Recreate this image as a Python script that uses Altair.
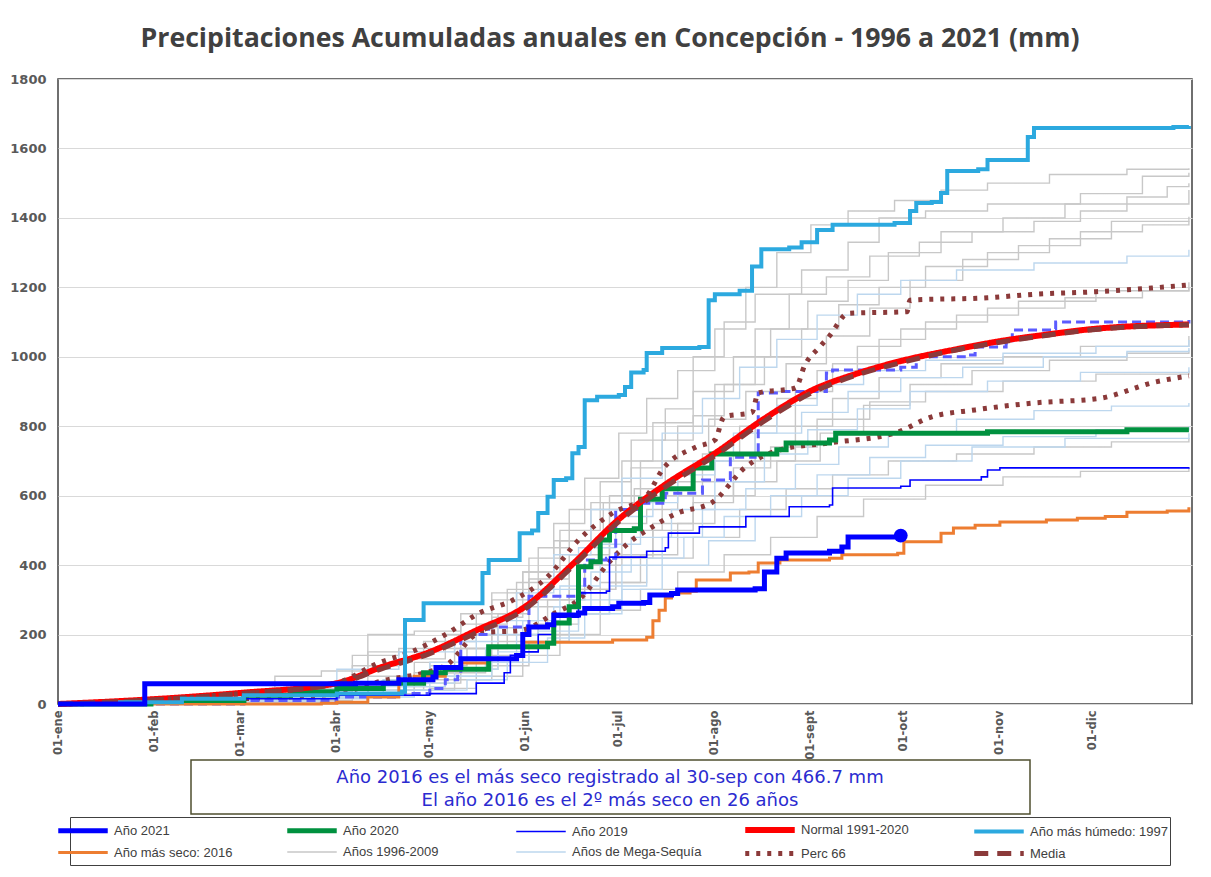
import altair as alt
import pandas as pd

# ---------------- data (day of year, accumulated mm) ----------------
meses_dias = [0, 31, 59, 90, 120, 151, 181, 212, 243, 273, 304, 334]
meses_etiquetas = ["01-ene", "01-feb", "01-mar", "01-abr", "01-may", "01-jun",
                   "01-jul", "01-ago", "01-sept", "01-oct", "01-nov", "01-dic"]
y_ticks = [0, 200, 400, 600, 800, 1000, 1200, 1400, 1600, 1800]

anio_2021 = [(0, 0), (27, 0), (28, 58), (96, 60), (110, 70), (121, 78), (122, 105), (130, 130),
             (148, 140), (150, 200), (152, 222), (158, 228), (160, 256), (168, 262), (170, 275),
             (179, 280), (181, 290), (189, 292), (191, 314), (198, 318), (200, 328), (225, 332),
             (228, 380), (232, 420), (235, 435), (249, 440), (253, 452), (255, 481), (272, 485)]
anio_2020 = [(0, 0), (30, 10), (60, 25), (75, 35), (90, 45), (105, 60), (118, 90), (125, 100),
             (139, 165), (158, 175), (160, 233), (165, 280), (168, 395), (172, 410), (175, 472),
             (178, 500), (186, 505), (188, 590), (195, 620), (205, 680), (211, 720), (232, 732),
             (235, 752), (249, 760), (251, 780), (300, 784), (345, 790), (365, 790)]
anio_2019 = [(0, 0), (30, 5), (60, 15), (90, 25), (120, 30), (135, 60), (144, 90), (146, 140),
             (150, 150), (155, 200), (160, 250), (168, 320), (177, 325), (178, 423), (190, 440),
             (196, 450), (197, 492), (207, 510), (222, 540), (236, 568), (249, 573), (250, 622),
             (272, 627), (275, 645), (298, 654), (300, 674), (304, 680), (365, 682)]
normal = [(0, 0), (31, 14), (59, 32), (90, 60), (104, 105), (120, 150), (135, 212), (151, 282),
          (166, 402), (181, 532), (196, 632), (212, 722), (228, 822), (243, 902), (258, 952),
          (273, 990), (289, 1020), (304, 1045), (320, 1065), (334, 1080), (365, 1093)]
anio_1997 = [(0, 0), (20, 5), (40, 15), (60, 25), (90, 30), (111, 35), (112, 242), (117, 242),
             (118, 290), (135, 290), (137, 377), (139, 415), (147, 415), (149, 492), (153, 500),
             (155, 550), (158, 597), (160, 645), (164, 650), (166, 722), (168, 740), (170, 875),
             (174, 885), (181, 890), (183, 913), (185, 955), (189, 962), (190, 1011), (195, 1025),
             (207, 1028), (210, 1163), (212, 1180), (220, 1190), (224, 1260), (227, 1310),
             (236, 1315), (240, 1330), (245, 1365), (250, 1380), (270, 1385), (275, 1420),
             (277, 1443), (282, 1446), (285, 1472), (287, 1535), (297, 1540), (300, 1567),
             (310, 1567), (313, 1633), (315, 1659), (360, 1662), (365, 1665)]
anio_2016 = [(0, 0), (60, 0), (85, 2), (90, 5), (100, 20), (110, 60), (115, 80), (125, 98),
             (130, 118), (139, 165), (150, 178), (179, 184), (190, 192), (192, 240), (194, 270),
             (196, 305), (198, 320), (204, 325), (206, 357), (217, 377), (223, 380), (226, 406),
             (233, 415), (249, 420), (253, 430), (271, 434), (273, 467), (283, 467), (285, 492),
             (289, 507), (296, 515), (304, 524), (319, 530), (329, 535), (338, 540), (345, 552),
             (358, 556), (365, 567)]
perc_66 = [(0, 0), (31, 12), (59, 30), (80, 45), (90, 60), (104, 120), (114, 150), (125, 200),
           (136, 262), (147, 300), (158, 366), (168, 472), (179, 550), (190, 600), (195, 674),
           (206, 740), (212, 760), (215, 827), (224, 840), (226, 896), (238, 910), (241, 975),
           (246, 1030), (249, 1060), (255, 1125), (274, 1130), (275, 1163), (300, 1170),
           (315, 1180), (334, 1187), (353, 1198), (365, 1207)]
media = [(0, 0), (31, 12), (59, 30), (90, 58), (104, 100), (120, 145), (135, 205), (151, 275),
         (166, 395), (181, 525), (196, 625), (212, 715), (228, 815), (243, 895), (258, 948),
         (273, 985), (289, 1018), (304, 1042), (320, 1063), (334, 1078), (365, 1092)]
perc_inferior = [(0, 0), (31, 5), (59, 15), (90, 30), (104, 65), (125, 110), (136, 204),
                 (150, 213), (160, 260), (168, 300), (179, 420), (185, 470), (190, 500),
                 (200, 550), (211, 580), (222, 683), (233, 732), (249, 752), (270, 780),
                 (282, 827), (296, 847), (315, 867), (336, 880), (354, 927), (365, 945)]
serie_trazos = [(0, 0), (60, 10), (90, 20), (110, 30), (120, 45), (125, 70), (129, 80),
                (130, 200), (139, 222), (150, 225), (152, 310), (168, 320), (170, 415),
                (177, 420), (180, 560), (187, 578), (196, 607), (208, 645), (217, 711),
                (225, 720), (226, 896), (233, 900), (248, 953), (250, 962), (272, 970),
                (277, 1000), (294, 1005), (296, 1028), (306, 1040), (308, 1077), (321, 1080),
                (322, 1100), (365, 1106)]

anios_1996_2009 = {
    "1996": [(0, 0), (40, 10), (75, 30), (100, 60), (120, 120), (140, 250), (150, 380), (160, 520),
             (170, 650), (181, 780), (190, 880), (200, 960), (212, 1080), (222, 1200), (232, 1300),
             (243, 1380), (255, 1420), (270, 1450), (285, 1480), (300, 1500), (320, 1525),
             (345, 1540), (365, 1543)],
    "1998": [(0, 0), (60, 10), (95, 25), (120, 45), (135, 80), (150, 140), (162, 200), (175, 270),
             (188, 330), (200, 380), (215, 430), (230, 480), (245, 540), (260, 590), (280, 630),
             (305, 654), (330, 670), (365, 680)],
    "1999": [(0, 0), (60, 15), (90, 40), (115, 90), (130, 160), (142, 260), (152, 360), (165, 430),
             (178, 600), (188, 700), (200, 800), (212, 920), (225, 1080), (236, 1180), (248, 1230),
             (262, 1290), (278, 1330), (295, 1360), (315, 1390), (330, 1420), (345, 1460),
             (358, 1490), (365, 1500)],
    "2000": [(0, 0), (20, 15), (45, 25), (70, 80), (85, 95), (100, 150), (118, 180), (135, 260),
             (148, 350), (160, 470), (172, 580), (182, 700), (192, 810), (205, 900), (218, 1000),
             (230, 1080), (242, 1160), (255, 1220), (268, 1300), (285, 1360), (305, 1400),
             (325, 1440), (365, 1480)],
    "2001": [(0, 0), (30, 5), (70, 30), (95, 110), (110, 130), (125, 200), (140, 300), (152, 420),
             (162, 500), (175, 560), (185, 680), (195, 760), (205, 830), (215, 920), (228, 1000),
             (240, 1080), (252, 1150), (265, 1200), (280, 1260), (300, 1300), (320, 1340),
             (340, 1390), (365, 1403)],
    "2002": [(0, 0), (50, 20), (85, 50), (95, 140), (110, 160), (130, 230), (145, 330), (155, 450),
             (165, 560), (175, 640), (185, 760), (196, 850), (205, 1000), (215, 1100), (225, 1180),
             (240, 1250), (255, 1330), (265, 1400), (280, 1420), (300, 1440), (330, 1470),
             (350, 1520), (365, 1530)],
    "2003": [(0, 0), (40, 20), (80, 45), (105, 70), (120, 110), (132, 160), (145, 220), (158, 300),
             (170, 400), (182, 500), (195, 600), (208, 720), (220, 800), (232, 880), (245, 960),
             (258, 1030), (272, 1080), (290, 1120), (310, 1160), (335, 1190), (365, 1215)],
    "2004": [(0, 0), (35, 10), (75, 25), (100, 40), (118, 70), (128, 120), (142, 180), (155, 300),
             (165, 400), (178, 520), (190, 560), (200, 640), (212, 700), (225, 800), (238, 900),
             (250, 980), (265, 1050), (280, 1100), (300, 1140), (325, 1170), (350, 1190),
             (365, 1200)],
    "2005": [(0, 0), (55, 10), (88, 60), (100, 200), (115, 210), (130, 260), (140, 320), (150, 380),
             (162, 470), (176, 580), (186, 620), (196, 700), (210, 820), (222, 900), (235, 980),
             (248, 1060), (262, 1140), (275, 1220), (292, 1280), (310, 1320), (330, 1360),
             (350, 1380), (365, 1390)],
    "2006": [(0, 0), (45, 10), (80, 30), (110, 50), (125, 90), (138, 140), (150, 200), (162, 260),
             (175, 350), (188, 430), (200, 520), (212, 600), (225, 700), (238, 800), (250, 880),
             (265, 940), (285, 980), (305, 1000), (330, 1030), (365, 1060)],
    "2007": [(0, 0), (40, 5), (85, 20), (110, 40), (128, 70), (140, 110), (152, 180), (165, 260),
             (178, 350), (190, 420), (205, 480), (220, 560), (235, 620), (250, 660), (268, 700),
             (290, 720), (315, 740), (340, 755), (365, 766)],
    "2008": [(0, 0), (30, 20), (60, 35), (95, 80), (115, 120), (128, 160), (140, 220), (152, 280),
             (165, 330), (180, 420), (192, 500), (205, 580), (218, 640), (232, 700), (246, 780),
             (260, 860), (275, 920), (295, 960), (320, 990), (345, 1010), (365, 1020)],
    "2009": [(0, 0), (50, 15), (90, 30), (115, 60), (130, 100), (142, 160), (155, 230), (168, 330),
             (180, 430), (192, 520), (205, 600), (218, 680), (230, 740), (245, 820), (262, 870),
             (280, 900), (305, 930), (335, 950), (365, 960)],
}
anios_mega_sequia = {
    "2010": [(0, 0), (35, 15), (70, 30), (100, 60), (120, 120), (135, 200), (148, 320), (160, 430),
             (172, 560), (182, 650), (195, 780), (208, 880), (220, 970), (232, 1050), (245, 1120),
             (258, 1180), (272, 1220), (290, 1250), (315, 1270), (345, 1290), (365, 1308)],
    "2011": [(0, 0), (25, 10), (60, 30), (90, 100), (110, 150), (128, 180), (142, 240), (155, 330),
             (168, 450), (180, 540), (192, 620), (205, 700), (218, 780), (232, 860), (245, 920),
             (260, 960), (280, 990), (305, 1010), (335, 1030), (365, 1048)],
    "2012": [(0, 0), (40, 20), (80, 40), (105, 70), (122, 100), (138, 160), (150, 240), (162, 340),
             (175, 460), (188, 580), (200, 660), (212, 720), (225, 780), (240, 840), (255, 900),
             (272, 940), (292, 970), (318, 1000), (345, 1015), (365, 1025)],
    "2013": [(0, 0), (30, 5), (65, 15), (100, 40), (120, 80), (135, 130), (148, 200), (160, 280),
             (172, 380), (185, 480), (198, 560), (212, 640), (228, 720), (242, 790), (258, 850),
             (275, 900), (300, 930), (330, 955), (365, 970)],
    "2014": [(0, 0), (45, 10), (85, 30), (112, 60), (128, 100), (142, 150), (155, 210), (168, 300),
             (182, 400), (195, 480), (208, 560), (222, 620), (238, 690), (252, 740), (268, 780),
             (290, 820), (315, 845), (340, 858), (365, 867)],
    "2015": [(0, 0), (30, 10), (70, 25), (105, 50), (125, 80), (140, 120), (152, 180), (165, 260),
             (178, 340), (190, 420), (202, 480), (215, 540), (230, 600), (245, 660), (262, 710),
             (280, 745), (305, 770), (335, 790), (365, 800)],
    "2017": [(0, 0), (50, 5), (90, 20), (115, 40), (132, 70), (145, 120), (158, 190), (170, 260),
             (182, 330), (195, 400), (210, 470), (225, 540), (240, 600), (255, 650), (272, 700),
             (295, 740), (325, 765), (365, 780)],
}

grupos = ["Año 2021", "Año 2020", "Año 2019", "Normal 1991-2020", "Año más húmedo: 1997",
          "Año más seco: 2016", "Años 1996-2009", "Años de Mega-Sequía", "Perc 66", "Media"]
colores = ["#0000FF", "#00913F", "#0000FF", "#FF0000", "#2CA9DF",
           "#ED7D31", "#C8C8C8", "#BDD7EE", "#8B3A3A", "#8B3A3A"]
trazos = [[1, 0], [1, 0], [1, 0], [1, 0], [1, 0], [1, 0], [1, 0], [1, 0], [4, 7], [14, 9]]
grosores = [5, 5, 1.6, 6, 4, 3, 1.4, 1.4, 5, 5]

texto_1 = "Año 2016 es el más seco registrado al 30-sep con 466.7 mm"
texto_2 = "El año 2016 es el 2º más seco en 26 años"
titulo = "Precipitaciones Acumuladas anuales en Concepción - 1996 a 2021 (mm)"


def tabla(grupo, linea, puntos):
    return pd.DataFrame({"grupo": grupo, "linea": linea,
                         "dia": [p[0] for p in puntos], "valor": [p[1] for p in puntos]})


df_grises = pd.concat([tabla("Años 1996-2009", k, v) for k, v in anios_1996_2009.items()])
df_mega = pd.concat([tabla("Años de Mega-Sequía", k, v) for k, v in anios_mega_sequia.items()])
df_2016 = tabla("Año más seco: 2016", "2016", anio_2016)
df_2019 = tabla("Año 2019", "2019", anio_2019)
df_2020 = tabla("Año 2020", "2020", anio_2020)
df_1997 = tabla("Año más húmedo: 1997", "1997", anio_1997)
df_2021 = tabla("Año 2021", "2021", anio_2021)
df_normal = tabla("Normal 1991-2020", "normal", normal)
df_media = tabla("Media", "media", media)
df_p66 = tabla("Perc 66", "p66", perc_66)
df_pinf = tabla("inf", "pinf", perc_inferior)
df_traz = tabla("traz", "traz", serie_trazos)
df_fin = df_2021.tail(1)

fuente = "DejaVu Sans"
X = alt.X("dia:Q", scale=alt.Scale(domain=[0, 366], nice=False, zero=False),
          axis=alt.Axis(values=meses_dias, title=None, grid=False, ticks=False, domain=False,
                        labelAngle=-90, labelPadding=6, labelFont=fuente, labelFontSize=11.5,
                        labelFontWeight="bold", labelColor="#595959",
                        labelExpr="%s[indexof(%s, datum.value)]" % (
                            str(meses_etiquetas), str(meses_dias))))
Y = alt.Y("valor:Q", scale=alt.Scale(domain=[0, 1800], nice=False),
          axis=alt.Axis(values=y_ticks, title=None, ticks=False, domain=False, format="d",
                        gridColor="#D9D9D9", gridWidth=1.2, labelPadding=12,
                        labelFont=fuente, labelFontSize=13, labelFontWeight="bold",
                        labelColor="#595959"))

# wide horizontal line symbol (path spans 2.75x the nominal symbol width)
leyenda = alt.Legend(title=None, orient="none", legendX=12, legendY=738, columns=5,
                     direction="horizontal",
                     symbolType="M-2.75,0H2.75", symbolSize=324, labelFont="Liberation Sans",
                     labelFontSize=13, labelColor="#404040", strokeColor="#404040",
                     padding=1, rowPadding=0, columnPadding=22, gridAlign="all",
                     labelLimit=240, labelOffset=19)

enc = dict(
    color=alt.Color("grupo:N", scale=alt.Scale(domain=grupos, range=colores), legend=leyenda),
    strokeDash=alt.StrokeDash("grupo:N", scale=alt.Scale(domain=grupos, range=trazos),
                              legend=leyenda),
    strokeWidth=alt.StrokeWidth("grupo:N", scale=alt.Scale(type="ordinal", domain=grupos,
                                                            range=grosores), legend=leyenda),
    detail="linea:N",
)


def capa(df, interp):
    return alt.Chart(df).mark_line(interpolate=interp).encode(x=X, y=Y, **enc)


capa_inf = alt.Chart(df_pinf).mark_line(interpolate="monotone", color="#8B3A3A",
                                        strokeWidth=5, strokeDash=[4, 7]).encode(x=X, y=Y)
capa_traz = alt.Chart(df_traz).mark_line(interpolate="step-after", color="#5B5BFF",
                                         strokeWidth=3, strokeDash=[9, 5]).encode(x=X, y=Y)
punto = alt.Chart(df_fin).mark_circle(size=190, color="#0000FF", opacity=1).encode(x=X, y=Y)

df_nota = pd.DataFrame({"t": [texto_1]})
caja = alt.Chart(df_nota).mark_rect(fill="white", stroke="#4F4F2F", strokeWidth=1.5).encode(
    x=alt.value(133), x2=alt.value(972), y=alt.value(681), y2=alt.value(735))
nota1 = alt.Chart(pd.DataFrame({"t": [texto_1]})).mark_text(
    font=fuente, fontSize=18, color="#2B2BD0").encode(
    x=alt.value(552), y=alt.value(699), text="t:N")
nota2 = alt.Chart(pd.DataFrame({"t": [texto_2]})).mark_text(
    font=fuente, fontSize=18, color="#2B2BD0").encode(
    x=alt.value(552), y=alt.value(722), text="t:N")

chart = alt.layer(
    capa(df_grises, "step-after"),
    capa(df_mega, "step-after"),
    capa_inf,
    capa_traz,
    capa(df_2016, "step-after"),
    capa(df_2019, "step-after"),
    capa(df_2020, "step-after"),
    capa(df_normal, "monotone"),
    capa(df_media, "monotone"),
    capa(df_p66, "monotone"),
    capa(df_1997, "step-after"),
    capa(df_2021, "step-after"),
    punto,
    caja, nota1, nota2,
).properties(
    width=1134, height=625,
    autosize=alt.AutoSizeParams(type="none"),
    padding={"left": 50, "top": 71, "right": 5, "bottom": 164},
    title=alt.TitleParams(titulo, font="Open Sans", fontSize=26.7, fontWeight="bold",
                          color="#404040", anchor="middle", offset=20, dx=-15),
).configure_view(stroke="#404040", strokeWidth=1.5)

chart.save("out.html", embed_options={"renderer": "svg", "actions": False})
